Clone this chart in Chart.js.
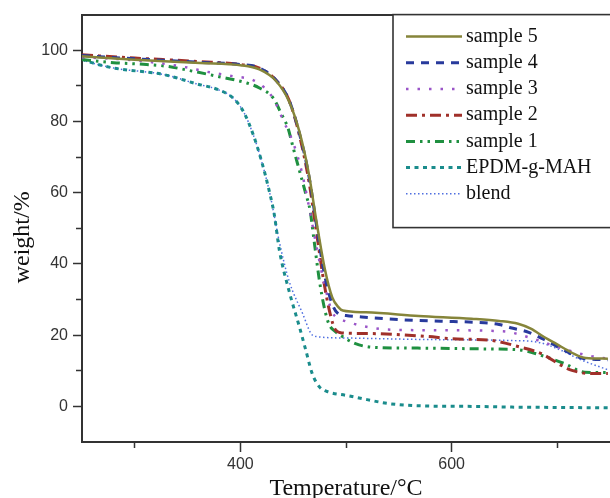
<!DOCTYPE html>
<html lang="en">
<head>
    <meta charset="UTF-8">
    <title>TGA curves</title>
    <style>
        body { margin: 0; background: #fff; }
        #wrap { width: 610px; height: 498px; position: relative; }
    </style>
</head>
<body>
    <div id="wrap">
        <canvas id="tga"></canvas>
    </div>

    <script src="https://cdn.jsdelivr.net/npm/chart.js"></script>
    <script>
        // temperature (°C) and weight (%)
        const t5 = [250, 300, 362, 400, 418, 434, 446, 456, 465, 472, 480, 487, 493, 497, 519, 569, 619, 645, 663, 675, 688, 700, 710, 720, 727, 748];
        const w5 = [98.3, 97.3, 96.4, 95.8, 94.6, 91.3, 85.7, 77, 65, 52, 38.5, 30.6, 27.8, 26.9, 26.4, 25.4, 24.6, 24, 23.2, 21.8, 19.4, 17.4, 15.7, 14.2, 13.6, 13.4];

        const t4 = [250, 300, 362, 400, 418, 434, 446, 456, 465, 472, 479, 486, 492, 500, 515, 553, 590, 622, 645, 657, 673, 688, 707, 726, 748];
        const w4 = [98.5, 97.6, 96.6, 96, 95, 91.5, 86, 76.5, 64.5, 51, 38, 29.5, 26.2, 25.5, 25.1, 24.3, 23.9, 23.6, 23, 22, 20.8, 18.7, 15.7, 13.4, 13.1];

        const t3 = [250, 280, 311, 343, 371, 393, 412, 423, 432, 440, 450, 458, 465, 472, 479, 487, 495, 503, 515, 544, 578, 648, 673, 701, 729, 748];
        const w3 = [98, 97.6, 96.8, 95.5, 93.8, 92.7, 91.6, 89.4, 86, 80.6, 74, 66, 56, 45, 35, 26.5, 24.5, 23.6, 22.6, 21.5, 21.4, 21.1, 19.4, 16.6, 14.3, 13.4];

        const t2 = [250, 300, 362, 400, 418, 434, 446, 456, 465, 472, 479, 485, 490, 497, 506, 531, 553, 578, 600, 638, 663, 685, 704, 714, 732, 748];
        const w2 = [98.7, 97.8, 96.8, 96, 95, 91.5, 86, 76, 63, 49, 35, 26, 21.5, 20.6, 20.5, 20.4, 20.1, 19.6, 19, 18.5, 16.8, 14.8, 11.5, 10.1, 9.2, 9.2];

        const t1 = [250, 280, 311, 330, 355, 381, 406, 418, 431, 439, 445, 450, 456, 462, 466, 470, 475, 480, 484, 490, 500, 509, 525, 553, 588, 640, 663, 682, 707, 726, 748];
        const w1 = [97.4, 96.5, 96, 95.5, 94.1, 92.5, 90.8, 89.4, 86.6, 82, 78.2, 72.6, 66.1, 59.6, 55, 46, 35, 27, 23, 21, 19, 17.6, 16.6, 16.4, 16.3, 16.1, 15.9, 14.6, 12, 9.6, 9.5];

        const tE = [250, 255, 280, 327, 358, 380, 393, 403, 412, 420, 428, 432, 437, 446, 456, 462, 468, 475, 484, 500, 520, 540, 577, 620, 657, 700, 748];
        const wE = [97.5, 96.9, 95, 93.2, 90.6, 88.8, 86.6, 82.7, 76.4, 68.9, 59.6, 54, 43.7, 32.5, 22.2, 15.7, 9.2, 5.4, 4, 3.1, 1.9, 0.8, 0.1, 0, -0.2, -0.3, -0.4];

        const tB = [250, 255, 280, 327, 358, 380, 393, 403, 412, 420, 428, 437, 446, 459, 467, 472, 500, 569, 654, 682, 704, 720, 745, 748];
        const wB = [97.3, 96.8, 95, 93.2, 90.6, 88.8, 86.6, 82.7, 76.4, 68.9, 59.6, 46, 35.3, 26, 20.4, 19.6, 19.2, 18.8, 18.5, 18, 15.7, 13.4, 10.6, 10.3];

        const labels = ['sample 5', 'sample 4', 'sample 3', 'sample 2', 'sample 1', 'EPDM-g-MAH', 'blend'];

        const xTicks = [300, 400, 500, 600, 700];
        const xLabelTicks = [400, 600];
        const yTicks = [0, 10, 20, 30, 40, 50, 60, 70, 80, 90, 100];
        const yLabelTicks = [0, 20, 40, 60, 80, 100];

        const pts = (t, w) => t.map((v, i) => ({ x: v, y: w[i] }));

        const styles = [
            { color: '#86853a', dash: [], width: 2.5 },
            { color: '#283a9c', dash: [8, 7], width: 3 },
            { color: '#9a55c8', dash: [2.5, 9], width: 2.5 },
            { color: '#a0302a', dash: [11, 5, 3, 5], width: 3 },
            { color: '#1f9040', dash: [9, 5, 2.5, 5, 2.5, 5], width: 3 },
            { color: '#1a8c8c', dash: [4, 4.5], width: 3 },
            { color: '#4f6fe0', dash: [1.5, 2.5], width: 1.5 }
        ];
        const series = [pts(t5, w5), pts(t4, w4), pts(t3, w3), pts(t2, w2), pts(t1, w1), pts(tE, wE), pts(tB, wB)];

        const datasets = series.map((d, i) => ({
            label: labels[i],
            data: d,
            borderColor: styles[i].color,
            borderDash: styles[i].dash,
            borderWidth: styles[i].width,
            pointRadius: 0,
            fill: false,
            cubicInterpolationMode: 'monotone'
        }));

        // boxed legend in the upper right corner, cut by the right edge like the original
        const boxLegend = {
            id: 'boxLegend',
            afterDraw(chart) {
                const { ctx, chartArea } = chart;
                const left = chartArea.right - 217;
                const top = chartArea.top;
                const h = 213;
                ctx.save();
                ctx.fillStyle = '#fff';
                ctx.fillRect(left, top, 240, h);
                ctx.strokeStyle = '#333';
                ctx.lineWidth = 1.6;
                ctx.strokeRect(left, top, 240, h);
                chart.data.datasets.forEach((ds, i) => {
                    const y = top + 22 + i * 26.2;
                    ctx.setLineDash(ds.borderDash);
                    ctx.strokeStyle = ds.borderColor;
                    ctx.lineWidth = ds.borderWidth;
                    ctx.beginPath();
                    ctx.moveTo(left + 13, y);
                    ctx.lineTo(left + 69, y);
                    ctx.stroke();
                    ctx.setLineDash([]);
                    ctx.fillStyle = '#111';
                    ctx.font = '20px "Liberation Serif", "Times New Roman", serif';
                    ctx.textBaseline = 'middle';
                    ctx.fillText(ds.label, left + 73, y);
                });
                ctx.restore();
            }
        };

        const tickFont = { family: '"Liberation Sans", Arial, sans-serif', size: 16 };

        new Chart(document.getElementById('tga'), {
            type: 'line',
            data: { datasets: datasets },
            options: {
                responsive: true,
                maintainAspectRatio: false,
                animation: false,
                layout: { padding: 0 },
                plugins: {
                    legend: { display: false },
                    tooltip: { enabled: false }
                },
                scales: {
                    x: {
                        type: 'linear',
                        position: 'bottom',
                        min: 250,
                        max: 750,
                        afterBuildTicks: s => { s.ticks = xTicks.map(v => ({ value: v })); },
                        afterFit: s => { s.height = 56; },
                        border: { color: '#333', width: 2 },
                        grid: {
                            drawOnChartArea: false,
                            tickLength: 10,
                            tickColor: '#333',
                            tickWidth: 1.5,
                            tickBorderDash: c => (c.tick && xLabelTicks.includes(c.tick.value)) ? [] : [5, 30]
                        },
                        ticks: {
                            font: tickFont,
                            color: '#333',
                            padding: 3,
                            maxRotation: 0,
                            autoSkip: false,
                            callback: v => xLabelTicks.includes(v) ? v : ''
                        },
                        title: {
                            display: true,
                            text: 'Temperature/°C',
                            color: '#111',
                            font: { family: '"Liberation Serif", "Times New Roman", serif', size: 24, lineHeight: 0.75 },
                            padding: 0
                        }
                    },
                    x2: {
                        type: 'linear',
                        axis: 'x',
                        position: 'top',
                        min: 250,
                        max: 750,
                        afterFit: s => { s.height = 13; },
                        border: { color: '#333', width: 2 },
                        grid: { display: false, drawTicks: false },
                        ticks: { display: false }
                    },
                    y: {
                        type: 'linear',
                        min: -10,
                        max: 110,
                        afterBuildTicks: s => { s.ticks = yTicks.map(v => ({ value: v })); },
                        afterFit: s => { s.width = 82; },
                        border: { color: '#333', width: 2 },
                        grid: {
                            drawOnChartArea: false,
                            tickLength: 9,
                            tickColor: '#333',
                            tickWidth: 1.5,
                            tickBorderDash: c => (c.tick && yLabelTicks.includes(c.tick.value)) ? [] : [0, 3, 20, 0]
                        },
                        ticks: {
                            font: tickFont,
                            color: '#333',
                            padding: 5,
                            autoSkip: false,
                            callback: v => yLabelTicks.includes(v) ? v : ''
                        },
                        title: {
                            display: true,
                            text: 'weight/%   ',
                            color: '#111',
                            font: { family: '"Liberation Serif", "Times New Roman", serif', size: 24, lineHeight: 1.2 },
                            padding: { top: 8, bottom: 0 }
                        }
                    }
                }
            },
            plugins: [boxLegend]
        });
    </script>
</body>
</html>
